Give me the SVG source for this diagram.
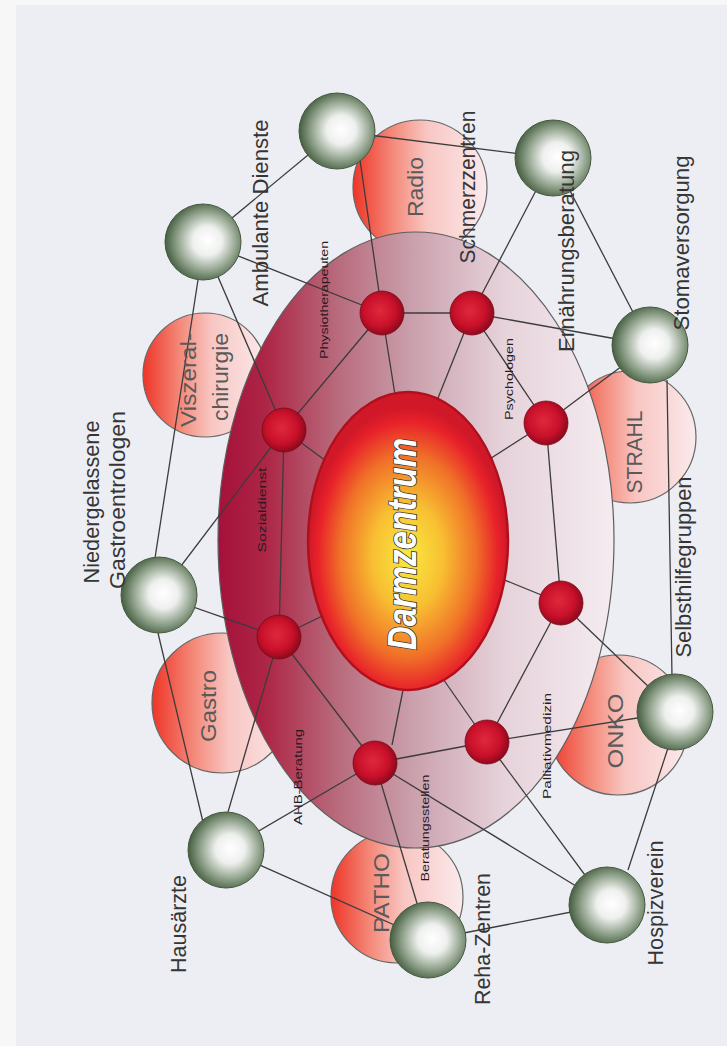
<svg xmlns="http://www.w3.org/2000/svg" width="727" height="1046" viewBox="0 0 727 1046">
<defs>
<style>
.lbl{font-family:"Liberation Sans",Arial,sans-serif;fill:#353535;font-size:22px;text-anchor:middle}
.spl{font-family:"Liberation Sans",Arial,sans-serif;fill:#5a5a5a;font-size:22px;text-anchor:middle}
.sml{font-family:"Liberation Sans",Arial,sans-serif;fill:#2a1a1e;font-size:11.5px;text-anchor:middle}
.ball{fill:url(#gBall);stroke:#45583f;stroke-width:1}
.red{fill:url(#gRed);stroke:#7a0a18;stroke-width:0.8}
.spec{fill:url(#gSpec);stroke:#666;stroke-width:1.2}
#connectors line{stroke:#3c3c3c;stroke-width:1.3;fill:none}
</style>
<radialGradient id="gBall" cx="0.55" cy="0.5" r="0.55" fx="0.56" fy="0.48">
<stop offset="0" stop-color="#ffffff"/>
<stop offset="0.35" stop-color="#eef0ee"/>
<stop offset="0.7" stop-color="#93a48e"/>
<stop offset="1" stop-color="#445e40"/>
</radialGradient>
<radialGradient id="gRed" cx="0.45" cy="0.45" r="0.6">
<stop offset="0" stop-color="#e0283c"/>
<stop offset="0.6" stop-color="#c8102a"/>
<stop offset="1" stop-color="#80081a"/>
</radialGradient>
<linearGradient id="gSpec" x1="0" y1="0" x2="1" y2="0">
<stop offset="0" stop-color="#ee3528"/>
<stop offset="0.3" stop-color="#f48a7a"/>
<stop offset="0.55" stop-color="#f8c6c2"/>
<stop offset="1" stop-color="#fbeaec"/>
</linearGradient>
<linearGradient id="gBig" gradientUnits="userSpaceOnUse" x1="218" y1="0" x2="614" y2="0">
<stop offset="0" stop-color="#a5103a"/>
<stop offset="0.12" stop-color="#ad2646"/>
<stop offset="0.3" stop-color="#b86a7c"/>
<stop offset="0.5" stop-color="#cba2ae"/>
<stop offset="0.72" stop-color="#e6d2da"/>
<stop offset="1" stop-color="#f4ecf0"/>
</linearGradient>
<radialGradient id="gCtr" cx="0.5" cy="0.55" r="0.5">
<stop offset="0" stop-color="#f8ea40"/>
<stop offset="0.35" stop-color="#f8c032"/>
<stop offset="0.68" stop-color="#f07028"/>
<stop offset="0.9" stop-color="#e8222a"/>
<stop offset="1" stop-color="#d01828"/>
</radialGradient>
</defs>

<rect x="0" y="0" width="727" height="1046" fill="#f7f7f8"/>
<rect x="16" y="5" width="711" height="1041" fill="#eceef3"/>

<g id="spec-radio"><circle class="spec" cx="420" cy="187" r="67"/></g>
<g id="spec-viszeral"><circle class="spec" cx="205" cy="375" r="62"/></g>
<g id="spec-gastro"><circle class="spec" cx="222" cy="703" r="70"/></g>
<g id="spec-patho"><circle class="spec" cx="397" cy="897" r="66"/></g>
<g id="spec-onko"><circle class="spec" cx="618" cy="725" r="70"/></g>
<g id="spec-strahl"><circle class="spec" cx="630" cy="437" r="66"/></g>

<g id="netz"><ellipse cx="416" cy="540" rx="198" ry="308" fill="url(#gBig)" stroke="#5e5e5e" stroke-width="1.2"/></g>

<g id="connectors">
<line x1="337" y1="131" x2="203" y2="242"/>
<line x1="337" y1="131" x2="553" y2="158"/>
<line x1="360" y1="160" x2="382" y2="313"/>
<line x1="203" y1="242" x2="382" y2="313"/>
<line x1="198" y1="280" x2="155" y2="558"/>
<line x1="203" y1="242" x2="284" y2="430"/>
<line x1="159" y1="595" x2="284" y2="430"/>
<line x1="159" y1="595" x2="279" y2="637"/>
<line x1="158" y1="633" x2="203" y2="822"/>
<line x1="228" y1="812" x2="279" y2="637"/>
<line x1="226" y1="850" x2="375" y2="763"/>
<line x1="226" y1="850" x2="428" y2="940"/>
<line x1="428" y1="940" x2="375" y2="763"/>
<line x1="428" y1="940" x2="607" y2="905"/>
<line x1="607" y1="905" x2="375" y2="763"/>
<line x1="607" y1="905" x2="487" y2="742"/>
<line x1="628" y1="870" x2="668" y2="748"/>
<line x1="675" y1="712" x2="561" y2="603"/>
<line x1="675" y1="712" x2="487" y2="742"/>
<line x1="667" y1="380" x2="672" y2="676"/>
<line x1="650" y1="345" x2="553" y2="158"/>
<line x1="650" y1="345" x2="472" y2="313"/>
<line x1="650" y1="345" x2="546" y2="423"/>
<line x1="553" y1="158" x2="472" y2="313"/>
<line x1="382" y1="313" x2="472" y2="313"/>
<line x1="382" y1="313" x2="284" y2="430"/>
<line x1="382" y1="313" x2="399" y2="420"/>
<line x1="472" y1="313" x2="430" y2="418"/>
<line x1="472" y1="313" x2="546" y2="423"/>
<line x1="546" y1="423" x2="460" y2="478"/>
<line x1="546" y1="423" x2="561" y2="603"/>
<line x1="561" y1="603" x2="480" y2="570"/>
<line x1="561" y1="603" x2="487" y2="742"/>
<line x1="487" y1="742" x2="375" y2="763"/>
<line x1="487" y1="742" x2="425" y2="653"/>
<line x1="392" y1="745" x2="405" y2="680"/>
<line x1="375" y1="763" x2="279" y2="637"/>
<line x1="279" y1="637" x2="284" y2="430"/>
<line x1="279" y1="637" x2="345" y2="605"/>
<line x1="284" y1="430" x2="345" y2="475"/>
</g>

<g id="darmzentrum">
<ellipse cx="408" cy="541" rx="100" ry="149" fill="url(#gCtr)" stroke="#b0101c" stroke-width="2.5"/>
<text transform="translate(402,544) rotate(-90)" dy="0.36em" textLength="212" lengthAdjust="spacingAndGlyphs" style="font-family:'Liberation Sans',Arial,sans-serif;font-size:40px;font-weight:bold;font-style:italic;fill:#ffffff;stroke:#3a3a3a;stroke-width:1.8;paint-order:stroke;text-anchor:middle">Darmzentrum</text>
</g>

<g id="red-physio"><circle class="red" cx="382" cy="313" r="22"/><text class="sml" transform="translate(324,300) rotate(-90)" dy="0.33em" textLength="118" lengthAdjust="spacingAndGlyphs">Physiotherapeuten</text></g>
<g id="red-2"><circle class="red" cx="472" cy="313" r="22"/></g>
<g id="red-psycho"><circle class="red" cx="546" cy="423" r="22"/><text class="sml" transform="translate(509,379) rotate(-90)" dy="0.33em" textLength="82" lengthAdjust="spacingAndGlyphs">Psychologen</text></g>
<g id="red-4"><circle class="red" cx="561" cy="603" r="22"/></g>
<g id="red-palliativ"><circle class="red" cx="487" cy="742" r="22"/><text class="sml" transform="translate(547,746) rotate(-90)" dy="0.33em" textLength="106" lengthAdjust="spacingAndGlyphs">Palliativmedizin</text></g>
<g id="red-beratung"><circle class="red" cx="375" cy="763" r="22"/><text class="sml" transform="translate(425,828) rotate(-90)" dy="0.33em" textLength="107" lengthAdjust="spacingAndGlyphs">Beratungsstellen</text><text class="sml" transform="translate(298,777) rotate(-90)" dy="0.33em" textLength="96" lengthAdjust="spacingAndGlyphs">AHB-Beratung</text></g>
<g id="red-7"><circle class="red" cx="279" cy="637" r="22"/></g>
<g id="red-sozial"><circle class="red" cx="284" cy="430" r="22"/><text class="sml" transform="translate(262,510) rotate(-90)" dy="0.33em" textLength="85" lengthAdjust="spacingAndGlyphs">Sozialdienst</text></g>

<g id="lbl-spec">
<text class="spl" transform="translate(415,187) rotate(-90)" dy="0.36em" textLength="60" lengthAdjust="spacingAndGlyphs">Radio</text>
<text class="spl" transform="translate(188,380) rotate(-90)" dy="0.36em" textLength="94" lengthAdjust="spacingAndGlyphs">Viszeral-</text>
<text class="spl" transform="translate(221,377) rotate(-90)" dy="0.3em" textLength="88" lengthAdjust="spacingAndGlyphs">chirurgie</text>
<text class="spl" transform="translate(209,706) rotate(-90)" dy="0.3em" textLength="72" lengthAdjust="spacingAndGlyphs">Gastro</text>
<text class="spl" transform="translate(381,893) rotate(-90)" dy="0.36em" textLength="80" lengthAdjust="spacingAndGlyphs">PATHO</text>
<text class="spl" transform="translate(615,731) rotate(-90)" dy="0.36em" textLength="75" lengthAdjust="spacingAndGlyphs">ONKO</text>
<text class="spl" transform="translate(634,452) rotate(-90)" dy="0.36em" textLength="83" lengthAdjust="spacingAndGlyphs">STRAHL</text>
</g>

<g id="node-a"><circle class="ball" cx="337" cy="131" r="38"/></g>
<g id="node-ambulante"><circle class="ball" cx="203" cy="242" r="38"/><text class="lbl" transform="translate(260,213) rotate(-90)" dy="0.36em" textLength="187" lengthAdjust="spacingAndGlyphs">Ambulante Dienste</text></g>
<g id="node-schmerz"><circle class="ball" cx="553" cy="158" r="38"/><text class="lbl" transform="translate(467,187) rotate(-90)" dy="0.36em" textLength="153" lengthAdjust="spacingAndGlyphs">Schmerzzentren</text><text class="lbl" transform="translate(567,251) rotate(-90)" dy="0.3em" textLength="202" lengthAdjust="spacingAndGlyphs">Ernährungsberatung</text></g>
<g id="node-stoma"><circle class="ball" cx="650" cy="345" r="38"/><text class="lbl" transform="translate(682,243) rotate(-90)" dy="0.3em" textLength="175" lengthAdjust="spacingAndGlyphs">Stomaversorgung</text></g>
<g id="node-selbsthilfe"><circle class="ball" cx="675" cy="712" r="38"/><text class="lbl" transform="translate(684,567) rotate(-90)" dy="0.3em" textLength="181" lengthAdjust="spacingAndGlyphs">Selbsthilfegruppen</text></g>
<g id="node-hospiz"><circle class="ball" cx="607" cy="905" r="38"/><text class="lbl" transform="translate(656,903) rotate(-90)" dy="0.3em" textLength="125" lengthAdjust="spacingAndGlyphs">Hospizverein</text></g>
<g id="node-reha"><circle class="ball" cx="428" cy="940" r="38"/><text class="lbl" transform="translate(482,939) rotate(-90)" dy="0.36em" textLength="132" lengthAdjust="spacingAndGlyphs">Reha-Zentren</text></g>
<g id="node-hausaerzte"><circle class="ball" cx="226" cy="850" r="38"/><text class="lbl" transform="translate(178,924) rotate(-90)" dy="0.36em" textLength="98" lengthAdjust="spacingAndGlyphs">Hausärzte</text></g>
<g id="node-gastroent"><circle class="ball" cx="159" cy="595" r="38"/><text class="lbl" transform="translate(91,502) rotate(-90)" dy="0.36em" textLength="163" lengthAdjust="spacingAndGlyphs">Niedergelassene</text><text class="lbl" transform="translate(118,500) rotate(-90)" dy="0.3em" textLength="178" lengthAdjust="spacingAndGlyphs">Gastroentrologen</text></g>
</svg>
